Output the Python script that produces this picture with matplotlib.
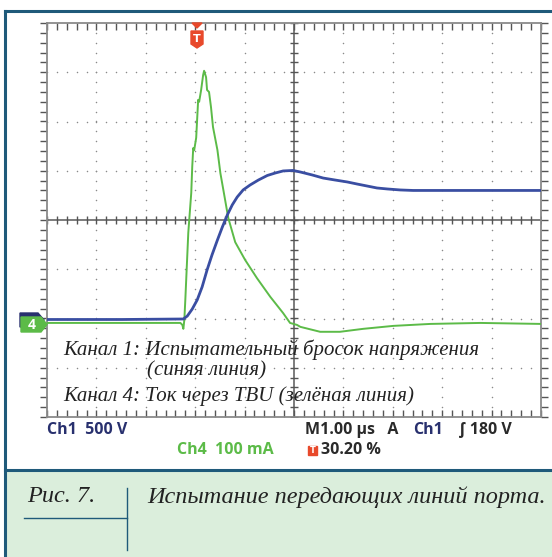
import numpy as np
import matplotlib.pyplot as plt
from matplotlib.patches import Polygon, Rectangle
from matplotlib.lines import Line2D

W, H = 552, 557

# ---- scope settings ----
ch1_scale = 500.0     # V/div
ch4_scale = 100.0     # mA/div
ch1_ground = -2.02    # div
ch4_ground = -2.09    # div
trig_pos = 30.20      # % of screen
time_div = 1.00       # us/div

# ---- Ch1: test voltage surge (V) ----
t_ch1 = [-3.02, -1.50, -0.26, -0.18, -0.08, 0.02, 0.12, 0.22, 0.32, 0.43,
         0.53, 0.63, 0.73, 0.83, 0.95, 1.09, 1.26, 1.44, 1.60, 1.76,
         1.96, 2.11, 2.35, 2.57, 2.81, 3.06, 3.26, 3.46, 3.66, 3.87,
         4.13, 4.39, 5.14, 6.15, 6.98]
v_ch1 = [0, 0, 5, 35, 106, 198, 330, 502, 655, 807,
         939, 1061, 1163, 1243, 1315, 1365, 1416, 1462, 1487, 1508,
         1513, 1497, 1467, 1436, 1416, 1396, 1375, 1355, 1335, 1325,
         1315, 1310, 1310, 1310, 1310]

# ---- Ch4: current through TBU (mA) ----
t_ch4 = [-3.02, -1.50, -0.32, -0.28, -0.26, -0.24, -0.22, -0.16, -0.10, -0.08,
         -0.06, -0.04, 0.00, 0.04, 0.06, 0.10, 0.14, 0.16, 0.20, 0.22,
         0.26, 0.30, 0.34, 0.43, 0.49, 0.55, 0.65, 0.79, 0.99, 1.23,
         1.50, 1.76, 1.90, 2.04, 2.11, 2.51, 2.91, 3.38, 3.99, 4.74,
         5.75, 6.98]
i_ch4 = [0, 0, 0, -4, -12, 6, 47, 183, 264, 317,
         355, 351, 376, 453, 449, 473, 503, 512, 499, 473,
         469, 438, 398, 351, 304, 270, 213, 164, 128, 91,
         53, 20, 0, -4, -8, -18, -18, -12, -6, -2,
         0, -2]

frame_col = '#1f5a7a'
blue = '#3a4ea2'
navy = '#28306e'
green = '#5cbb48'
trig_col = '#e8492b'
grid_col = '#8a8a8a'


def fx(x):
    return x / W


def fy(y):
    return 1 - y / H


fig = plt.figure(figsize=(W / 100, H / 100), dpi=100)

# caption background and frame
fig.patches.append(Rectangle((fx(5), 0), 1, fy(471), transform=fig.transFigure,
                             facecolor='#dbeedc', edgecolor='none', zorder=0))
fig.add_artist(Line2D([fx(5), 1], [fy(11), fy(11)], color=frame_col, lw=2.2))
fig.add_artist(Line2D([fx(5), 1], [fy(470), fy(470)], color=frame_col, lw=2.2))
fig.add_artist(Line2D([fx(5), fx(5)], [fy(11), 0], color=frame_col, lw=2.2))
fig.add_artist(Line2D([fx(127), fx(127)], [fy(488), fy(550)], color=frame_col, lw=1))
fig.add_artist(Line2D([fx(24), fx(127)], [fy(518), fy(518)], color=frame_col, lw=1))

ax = fig.add_axes([fx(47), fy(417), 494 / W, 394 / H])
ax.set_xlim(-5, 5)
ax.set_ylim(-4, 4)
ax.set_xticks([])
ax.set_yticks([])
for s in ax.spines.values():
    s.set_color(grid_col)
    s.set_linewidth(1.3)

# dotted graticule
minor_x = np.arange(-5, 5.01, 0.2)
minor_y = np.arange(-4, 4.01, 0.2)
for gx in range(-4, 5):
    if gx == 0:
        continue
    ax.plot(np.full_like(minor_y, gx), minor_y, ls='none', marker='o', ms=1.1,
            color=grid_col, mew=0)
for gy in range(-3, 4):
    if gy == 0:
        continue
    ax.plot(minor_x, np.full_like(minor_x, gy), ls='none', marker='o', ms=1.1,
            color=grid_col, mew=0)

# center cross with ticks
ax.axhline(0, color='#666666', lw=1.2)
ax.axvline(0, color='#666666', lw=1.2)
ax.plot(minor_x, np.zeros_like(minor_x), ls='none', marker='|', ms=6,
        color='#555555', mew=1)
ax.plot(np.zeros_like(minor_y), minor_y, ls='none', marker='_', ms=6,
        color='#555555', mew=1)
# edge ticks
ax.plot(minor_x, np.full_like(minor_x, 4), ls='none', marker=3, ms=5,
        color='#555555', mew=1, clip_on=False)
ax.plot(minor_x, np.full_like(minor_x, -4), ls='none', marker=2, ms=5,
        color='#555555', mew=1, clip_on=False)
ax.plot(np.full_like(minor_y, -5), minor_y, ls='none', marker=0, ms=5,
        color='#555555', mew=1, clip_on=False)
ax.plot(np.full_like(minor_y, 5), minor_y, ls='none', marker=1, ms=5,
        color='#555555', mew=1, clip_on=False)

# traces
x0 = -5 + trig_pos / 10.0
xs1 = np.array(t_ch1) / time_div + x0
ys1 = np.array(v_ch1) / ch1_scale + ch1_ground
xs4 = np.array(t_ch4) / time_div + x0
ys4 = np.array(i_ch4) / ch4_scale + ch4_ground
ax.plot(xs4, ys4, color=green, lw=1.4, zorder=5)
ax.plot(xs1, ys1, color=blue, lw=2.0, zorder=6, solid_joinstyle='round')

# annotation inside screen
tfont = dict(family='Liberation Serif', style='italic', size=15, color='#222222')
fig.text(fx(63), fy(350), 'Канал 1: Испытательный бросок напряжения', va='center', **tfont)
fig.text(fx(147), fy(371), '(синяя линия)', va='center', **tfont)
fig.text(fx(63), fy(396), 'Канал 4: Ток через TBU (зелёная линия)', va='center', **tfont)

# trigger marker
fig.patches.append(Polygon([(fx(192), fy(23)), (fx(202), fy(23)), (fx(197), fy(28))],
                           closed=True, transform=fig.transFigure, color=trig_col, zorder=10))
fig.patches.append(Polygon([(fx(191), fy(31)), (fx(203), fy(31)), (fx(203), fy(44)),
                            (fx(197), fy(48)), (fx(191), fy(44))],
                           closed=True, transform=fig.transFigure, color=trig_col, zorder=10))
fig.text(fx(197), fy(39), 'T', color='white', ha='center', va='center',
         fontsize=8, fontweight='bold', family='DejaVu Sans', zorder=11)

# channel markers
fig.patches.append(Polygon([(fx(20), fy(313)), (fx(38), fy(313)), (fx(44), fy(320)),
                            (fx(38), fy(327)), (fx(20), fy(327))],
                           closed=True, transform=fig.transFigure, color=navy, zorder=10))
fig.patches.append(Polygon([(fx(21), fy(317)), (fx(41), fy(317)), (fx(47), fy(324.5)),
                            (fx(41), fy(332)), (fx(21), fy(332))],
                           closed=True, transform=fig.transFigure, color=green, zorder=11))
fig.text(fx(32), fy(325), '4', color='white', ha='center', va='center',
         fontsize=10, fontweight='bold', family='Open Sans', zorder=12)

# readouts
lfont = dict(family='Open Sans', fontweight='bold', size=11.5, va='center')
fig.text(fx(47), fy(430), 'Ch1  500 V', color=navy, **lfont)
fig.text(fx(177), fy(450), 'Ch4  100 mA', color=green, **lfont)
fig.text(fx(305), fy(430), 'M1.00 µs   A', color='#2a2a2a', **lfont)
fig.text(fx(413), fy(430), 'Ch1', color=navy, **lfont)
fig.text(fx(459), fy(430), '∫ 180 V', color='#2a2a2a', **lfont)
fig.patches.append(Rectangle((fx(308), fy(455)), 9 / W, 9 / H, transform=fig.transFigure,
                             color=trig_col, zorder=10))
fig.text(fx(312.5), fy(450.5), 'T', color='white', ha='center', va='center',
         fontsize=6, fontweight='bold', family='DejaVu Sans', zorder=11)
fig.text(fx(321), fy(450), '30.20 %', color='#2a2a2a', **lfont)

# caption
cfont = dict(family='Liberation Serif', style='italic', size=17.5, color='#222222', va='center')
fig.text(fx(27), fy(497), 'Рис. 7.', **cfont)
fig.text(fx(147), fy(497), 'Испытание передающих линий порта.', **cfont)

fig.savefig('out.png', dpi=100, facecolor='white')
